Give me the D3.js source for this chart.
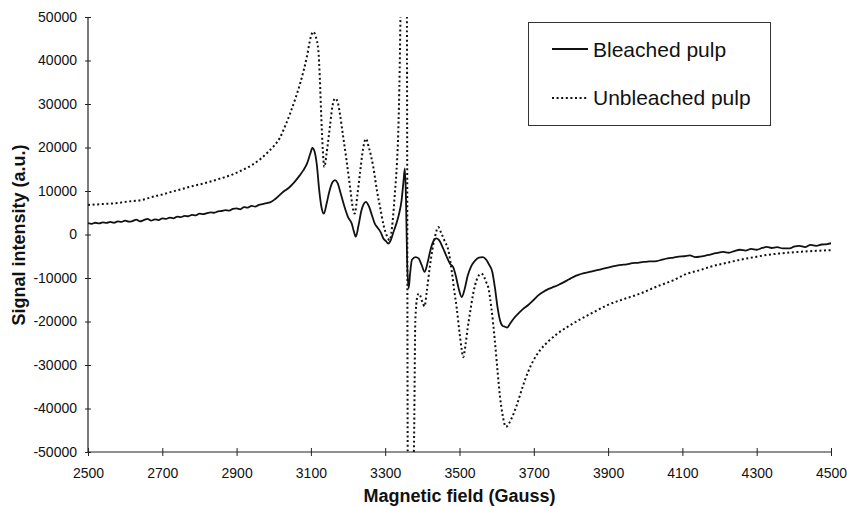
<!DOCTYPE html>
<html><head><meta charset="utf-8">
<script src="https://cdn.jsdelivr.net/npm/d3@7"></script>
<style>body{margin:0;background:#fff}svg{display:block}</style>
</head><body><svg id="c" width="847" height="508"></svg>
<script>
const xTicks = [2500,2700,2900,3100,3300,3500,3700,3900,4100,4300,4500];
const yTicks = [-50000,-40000,-30000,-20000,-10000,0,10000,20000,30000,40000,50000];
const seriesNames = ["Bleached pulp","Unbleached pulp"];
const bleachedField = [2500,2510,2520,2530,2540,2550,2560,2570,2580,2590,2600,2610,2620,2630,2640,2650,2660,2670,2680,2690,2700,2710,2720,2730,2740,2750,2760,2770,2780,2790,2800,2810,2820,2830,2840,2850,2860,2870,2880,2890,2900,2910,2920,2930,2940,2950,2960,2970,2980,2990,3000,3010,3020,3030,3040,3050,3060,3070,3080,3090,3098,3104,3110,3116,3122,3128,3135,3142,3150,3158,3165,3172,3180,3190,3200,3210,3216,3221,3228,3236,3242,3248,3256,3264,3272,3280,3288,3295,3302,3308,3314,3322,3330,3338,3344,3349,3353,3356,3359,3363,3367,3372,3382,3390,3398,3406,3414,3422,3430,3437,3445,3455,3465,3475,3483,3490,3498,3506,3514,3522,3532,3542,3552,3562,3570,3580,3588,3595,3602,3609,3616,3622,3628,3636,3646,3658,3670,3685,3700,3712,3725,3740,3755,3766,3780,3795,3806,3820,3835,3850,3865,3878,3890,3905,3920,3935,3950,3965,3980,3995,4010,4031,4045,4060,4076,4090,4105,4120,4135,4147,4160,4175,4190,4210,4225,4240,4255,4270,4285,4300,4315,4327,4340,4355,4370,4389,4400,4415,4430,4445,4460,4475,4490,4500];
const bleachedSignal = [2600,2450,2700,2550,2800,2650,2900,2700,3000,2900,3200,2950,3100,3400,3000,3300,3600,3200,3500,3300,3700,3600,3900,3700,4100,4000,4300,4200,4500,4400,4800,4700,4900,5100,5000,5300,5400,5600,5500,5900,6000,5800,6300,6200,6600,6400,6800,7000,7200,7400,7900,8600,9400,10100,10700,11500,12500,13600,14800,16400,18500,19900,19000,16000,10500,6500,4800,7000,10000,12000,12500,11800,9500,6500,4000,2500,600,-500,2000,5500,7000,7500,6500,4500,2500,1500,500,-900,-1500,-2100,-1500,500,2500,5000,7800,12000,15200,8000,-6000,-12400,-9000,-5800,-5200,-5500,-7000,-8600,-6500,-3500,-1500,-900,-1300,-3000,-5000,-6800,-7500,-9500,-12500,-14400,-12500,-9500,-7200,-6000,-5300,-5200,-5600,-7000,-8500,-12000,-16500,-19700,-21000,-21200,-21400,-20500,-19300,-18200,-17200,-16200,-15000,-14000,-13200,-12500,-12000,-11600,-11000,-10300,-9800,-9300,-8900,-8600,-8300,-8050,-7800,-7500,-7200,-7000,-6850,-6600,-6500,-6300,-6200,-6100,-5800,-5500,-5300,-5100,-5000,-4800,-5200,-5100,-4900,-4600,-4300,-4000,-4200,-3800,-3500,-3700,-3300,-3500,-3100,-2850,-3100,-2900,-3200,-3200,-2800,-2600,-2900,-2400,-2600,-2300,-2200,-2000];
const unbleachedField = [2500,2520,2540,2560,2580,2600,2620,2643,2660,2680,2700,2724,2750,2780,2814,2850,2886,2910,2940,2965,2985,3000,3017,3030,3044,3058,3071,3089,3100,3106,3113,3120,3124,3128,3132,3136,3142,3151,3158,3165,3172,3178,3186,3196,3206,3212,3218,3225,3232,3240,3248,3256,3268,3278,3286,3296,3304,3312,3320,3326,3332,3335,3339,3342,3348,3354,3358,3361,3368,3374,3378,3381,3386,3390,3394,3400,3406,3412,3420,3427,3434,3443,3450,3460,3470,3480,3486,3492,3500,3506,3510,3516,3522,3528,3537,3546,3553,3559,3566,3572,3577,3586,3595,3602,3609,3616,3625,3640,3655,3670,3685,3700,3717,3740,3762,3795,3825,3860,3896,3940,3986,4030,4076,4110,4147,4180,4210,4250,4300,4327,4370,4420,4460,4500];
const unbleachedSignal = [6800,6900,7000,7100,7250,7500,7700,7900,8300,8800,9200,9800,10400,11100,11800,12700,13700,14600,15900,17400,19000,20300,22300,24800,27800,31200,34700,40800,45500,46600,45500,42400,36000,27000,19500,15500,18500,24700,29500,31300,30500,27800,23000,17000,10500,6500,4800,9000,14000,19500,22000,20000,15500,10000,6400,2000,-200,-1300,3000,9400,17000,23000,38000,55000,70000,66000,60000,-60000,-75000,-65000,-45000,-20000,-14500,-13600,-14000,-15500,-16500,-13000,-7500,-3500,-500,1700,500,-1500,-3600,-9000,-13000,-16600,-22500,-26500,-28200,-25500,-21500,-18200,-13500,-10500,-9300,-9000,-9700,-11000,-12000,-17000,-24300,-31000,-37300,-41500,-44200,-42300,-39000,-35000,-31500,-28800,-26600,-24500,-22900,-21000,-19500,-17900,-16300,-14900,-13600,-12000,-10500,-9100,-8200,-7300,-6700,-5900,-5100,-4700,-4300,-3950,-3750,-3600];

const svg = d3.select("#c");
const L = 88, R = 831, T = 17, B = 452;
const x = d3.scaleLinear().domain([2500,4500]).range([L,R]);
const y = d3.scaleLinear().domain([-50000,50000]).range([B,T]);
const FONT = "'Liberation Sans', Arial, Helvetica, sans-serif";

svg.append("defs").append("clipPath").attr("id","clip")
  .append("rect").attr("x",L).attr("y",T).attr("width",R-L).attr("height",B-T);

const line = d3.line().x(d=>x(d[0])).y(d=>y(d[1])).curve(d3.curveMonotoneX);
const bData = bleachedField.map((f,i)=>[f,bleachedSignal[i]]);
const uData = unbleachedField.map((f,i)=>[f,unbleachedSignal[i]]);

const plot = svg.append("g").attr("clip-path","url(#clip)");
plot.append("path").datum(uData).attr("d",line).attr("fill","none")
  .attr("stroke","#111").attr("stroke-width",2).attr("stroke-dasharray","2,2.6");
plot.append("path").datum(bData).attr("d",line).attr("fill","none")
  .attr("stroke","#111").attr("stroke-width",1.8);

// axes
const yAxis = svg.append("g").attr("transform",`translate(${L},0)`)
  .call(d3.axisLeft(y).tickValues(yTicks).tickSize(3).tickPadding(8).tickFormat(d=>String(d)));
yAxis.selectAll(".tick line").attr("x2",-3).attr("x1",3);
const xAxis = svg.append("g").attr("transform",`translate(0,${B})`)
  .call(d3.axisBottom(x).tickValues(xTicks).tickSize(4).tickPadding(12).tickFormat(d=>String(d)));
xAxis.selectAll(".tick line").attr("y1",-4).attr("y2",4);
[yAxis,xAxis].forEach(a=>{
  a.select(".domain").attr("stroke","#222").attr("stroke-width",1.2);
  a.selectAll(".tick line").attr("stroke","#222").attr("stroke-width",1);
  a.selectAll(".tick text").attr("font-family",FONT).attr("font-size",14).attr("fill","#111");
});
xAxis.select(".domain").attr("d",`M${L},0H${R}`);
yAxis.select(".domain").attr("d",`M0,${T}V${B}`);

// titles
svg.append("text").attr("x",(L+R)/2).attr("y",502).attr("text-anchor","middle")
  .attr("font-family",FONT).attr("font-weight","bold").attr("font-size",18).attr("fill","#111")
  .text("Magnetic field (Gauss)");
svg.append("text").attr("transform","translate(25,235) rotate(-90)").attr("text-anchor","middle")
  .attr("font-family",FONT).attr("font-weight","bold").attr("font-size",18).attr("fill","#111")
  .text("Signal intensity (a.u.)");

// legend
const lg = svg.append("g");
lg.append("rect").attr("x",528.5).attr("y",22.5).attr("width",242).attr("height",103)
  .attr("fill","#fff").attr("stroke","#333").attr("stroke-width",1);
const rows = [{name:seriesNames[0],dash:null,ly:49,ty:57},{name:seriesNames[1],dash:"2,2.6",ly:98,ty:105}];
rows.forEach(r=>{
  lg.append("line").attr("x1",552).attr("x2",588).attr("y1",r.ly).attr("y2",r.ly)
    .attr("stroke","#111").attr("stroke-width",r.dash?2:1.8).attr("stroke-dasharray",r.dash);
  lg.append("text").attr("x",593).attr("y",r.ty).attr("font-family",FONT).attr("font-size",21)
    .attr("fill","#111").text(r.name);
});
</script></body></html>
